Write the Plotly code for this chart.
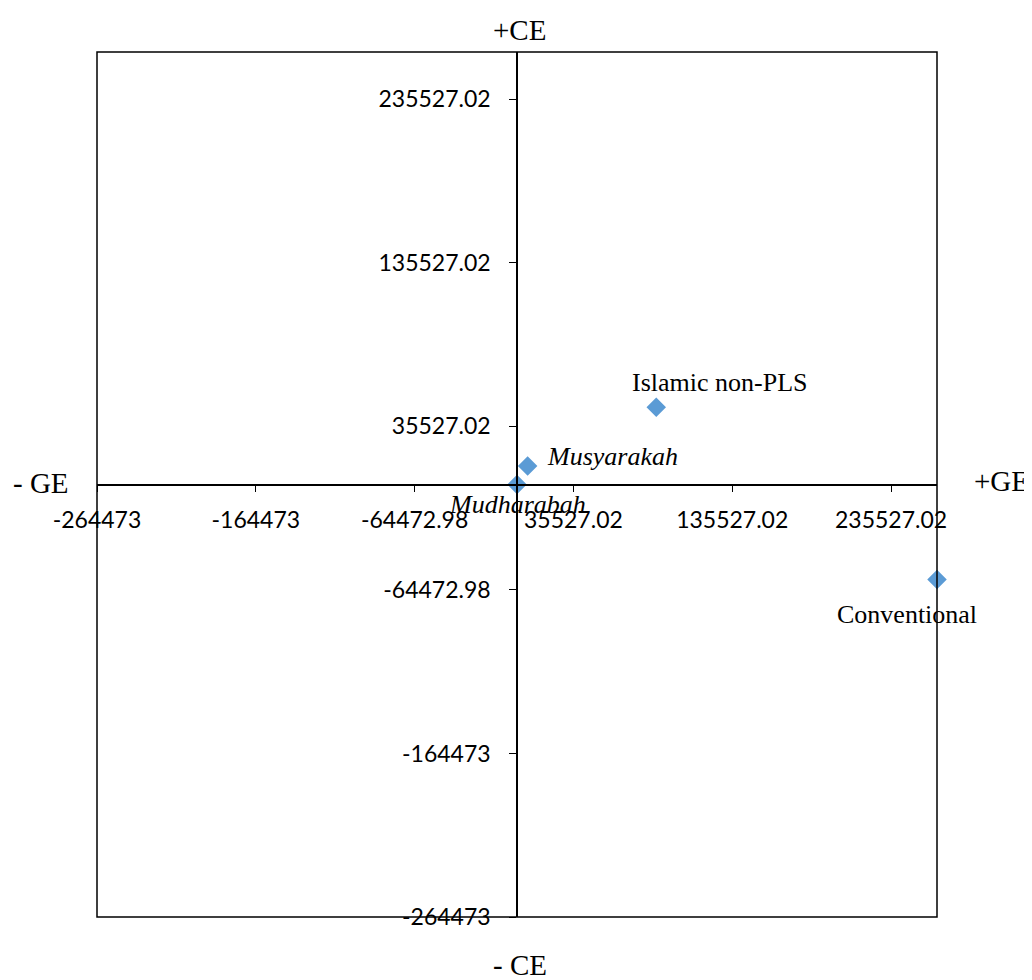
import plotly.graph_objects as go

# Data
names = ["Mudharabah", "Musyarakah", "Islamic non-PLS", "Conventional"]
ge_values = [0, 6700, 87700, 264473]
ce_values = [0, 11300, 47300, -58100]
label_italic = [True, True, False, False]

x_tickvals = [-264473, -164473, -64472.98, 35527.02, 135527.02, 235527.02]
x_ticktext = ["-264473", "-164473", "-64472.98", "35527.02", "135527.02", "235527.02"]
y_tickvals = [235527.02, 135527.02, 35527.02, -64472.98, -164473, -264473]
y_ticktext = ["235527.02", "135527.02", "35527.02", "-64472.98", "-164473", "-264473"]
axis_limit = 264473

quad_labels = ["+CE", "- CE", "- GE", "+GE"]

# label offsets (pixels) per point
label_shift = {
    "Mudharabah": dict(xshift=0, yshift=-20, xanchor="center"),
    "Musyarakah": dict(xshift=17, yshift=10, xanchor="left"),
    "Islamic non-PLS": dict(xshift=64, yshift=25, xanchor="center"),
    "Conventional": dict(xshift=-30, yshift=-35, xanchor="center"),
}

serif = "Liberation Serif, Times New Roman, serif"
sans = "Lato, Carlito, Calibri, sans-serif"

fig = go.Figure()
fig.add_trace(go.Scatter(
    x=ge_values, y=ce_values, mode="markers",
    marker=dict(symbol="diamond", size=15, color="#5B9BD5"),
    cliponaxis=False, hoverinfo="text", text=names, showlegend=False,
))

for n, xv, yv, it in zip(names, ge_values, ce_values, label_italic):
    s = label_shift[n]
    txt = f"<i>{n}</i>" if it else n
    fig.add_annotation(x=xv, y=yv, text=txt, showarrow=False,
                       font=dict(family=serif, size=26, color="black"),
                       xshift=s["xshift"], yshift=s["yshift"], xanchor=s["xanchor"],
                       yanchor="middle")

# quadrant labels
pos = [(0.5, 1.0, 2, 22), (0.5, 0.0, 3, -48), (0.0, 0.5, -56, 2), (1.0, 0.5, 64, 4)]
for lab, (px, py, xs, ys) in zip(quad_labels, pos):
    fig.add_annotation(x=px, y=py, xref="paper", yref="paper", text=lab,
                       showarrow=False, font=dict(family=serif, size=29, color="black"),
                       xshift=xs, yshift=ys, xanchor="center", yanchor="middle")

# border box
fig.add_shape(type="rect", xref="paper", yref="paper", x0=0, y0=0, x1=1, y1=1,
              line=dict(color="black", width=1.5))

fig.update_xaxes(range=[-axis_limit, axis_limit], tickvals=x_tickvals, ticktext=x_ticktext,
                 showgrid=False, zeroline=False, showline=True, linecolor="black", linewidth=1.5,
                 ticks="outside", ticklen=7, tickwidth=1.2, tickcolor="black",
                 anchor="free", position=0.5, side="bottom", ticklabelstandoff=8,
                 tickfont=dict(family=sans, size=23, color="black"))
fig.update_yaxes(range=[-axis_limit, axis_limit], tickvals=y_tickvals, ticktext=y_ticktext,
                 showgrid=False, zeroline=False, showline=True, linecolor="black", linewidth=1.5,
                 ticks="outside", ticklen=7, tickwidth=1.2, tickcolor="black",
                 anchor="free", position=0.5, side="left", ticklabelstandoff=14,
                 tickfont=dict(family=sans, size=23, color="black"))

# page body has an 8px margin, so the figure is offset by 8px
fig.update_layout(width=1024, height=972, margin=dict(l=89, r=95, t=44, b=63),
                  plot_bgcolor="white", paper_bgcolor="white")

fig.write_html("out.html")
